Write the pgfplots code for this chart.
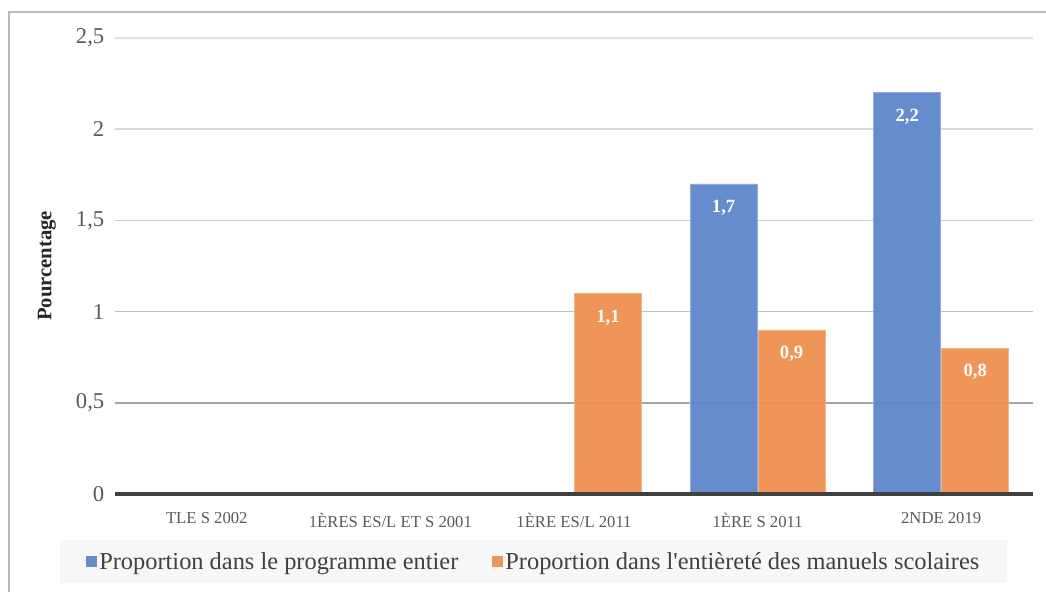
\documentclass[border=0pt]{standalone}
\usepackage{fontspec}
\setmainfont{Liberation Serif}[Ligatures=TeXOff]
\usepackage{pgfplots}
\pgfplotsset{compat=1.18}
\definecolor{cblue}{HTML}{5F86CB}
\definecolor{corange}{HTML}{EF8F4F}
\definecolor{axisdark}{HTML}{404040}
\definecolor{ticktext}{HTML}{595959}
\begin{document}
\begin{tikzpicture}
\useasboundingbox (0,0) rectangle (784.5pt,444pt);
\draw[color=black!27, line width=1.6pt] (6.75pt,0pt) -- (6.75pt,435pt) -- (784.5pt,435pt);
\begin{axis}[
  at={(86.25pt,73.5pt)}, anchor=south west,
  scale only axis, width=688.5pt, height=342pt,
  xmin=-0.5, xmax=4.5, ymin=0, ymax=2.5,
  clip=false,
  axis line style={draw=none},
  tick style={draw=none},
  xtick={0,1,2,3,4},
  xticklabels={TLE S 2002, 1ÈRES ES/L ET S 2001, 1ÈRE ES/L 2011, 1ÈRE S 2011, 2NDE 2019},
  xticklabel style={font=\fontsize{12.5}{14}\selectfont, text=ticktext, yshift=-10.5pt},
  ytick={0,0.5,1,1.5,2,2.5},
  yticklabel style={font=\fontsize{17}{19}\selectfont, text=ticktext, xshift=-4.5pt},
  /pgf/number format/.cd, use comma, fixed, assume math mode=true, /pgfplots/.cd,
  ylabel={Pourcentage},
  ylabel style={at={(axis description cs:-0.0741,0.5)}, anchor=center, font=\bfseries\fontsize{15.5}{17}\selectfont, text=black!85},
  legend columns=2,
  legend style={at={(axis description cs:-0.0599,-0.1009)}, anchor=north west,
    fill=black!3, draw=none, font=\fontsize{18.3}{20}\selectfont, text=black!75,
    inner xsep=19pt, inner ysep=7pt,
    /tikz/every even column/.append style={column sep=23pt}},
  legend image code/.code={\fill[#1, draw=none] (0pt,-4.1pt) rectangle (8.25pt,4.1pt);},
  barlabels/.style={nodes near coords,
    every node near coord/.append style={anchor=center, yshift=-18pt, xshift=#1, text=white, font=\bfseries\fontsize{14}{16}\selectfont}},
]
\addplot[sharp plot, forget plot, no marks, draw=black!12, line width=1.1pt] coordinates {(-0.5,2.5) (4.5,2.5)};
\addplot[sharp plot, forget plot, no marks, draw=black!15, line width=1.1pt] coordinates {(-0.5,2) (4.5,2)};
\addplot[sharp plot, forget plot, no marks, draw=black!19, line width=1.1pt] coordinates {(-0.5,1.5) (4.5,1.5)};
\addplot[sharp plot, forget plot, no marks, draw=black!25, line width=1.1pt] coordinates {(-0.5,1) (4.5,1)};
\addplot[sharp plot, forget plot, no marks, draw=black!35, line width=1.1pt] coordinates {(-0.5,0.5) (4.5,0.5)};
\addplot[ybar, bar width=50.25pt, bar shift=-25.5pt, barlabels=-25.5pt, fill=cblue, draw=cblue!70!white, line width=0.4pt, fill opacity=0.95, text opacity=1] coordinates {(3,1.7) (4,2.2)};
\addplot[ybar, bar width=50.25pt, bar shift=25.5pt, barlabels=25.5pt, fill=corange, draw=corange!70!white, line width=0.4pt, fill opacity=0.95, text opacity=1] coordinates {(2,1.1) (3,0.9) (4,0.8)};
\addplot[sharp plot, forget plot, no marks, draw=axisdark, line width=3pt] coordinates {(-0.5,0) (4.5,0)};
\legend{Proportion dans le programme entier, Proportion dans l'entièreté des manuels scolaires}
\end{axis}
\end{tikzpicture}
\end{document}
